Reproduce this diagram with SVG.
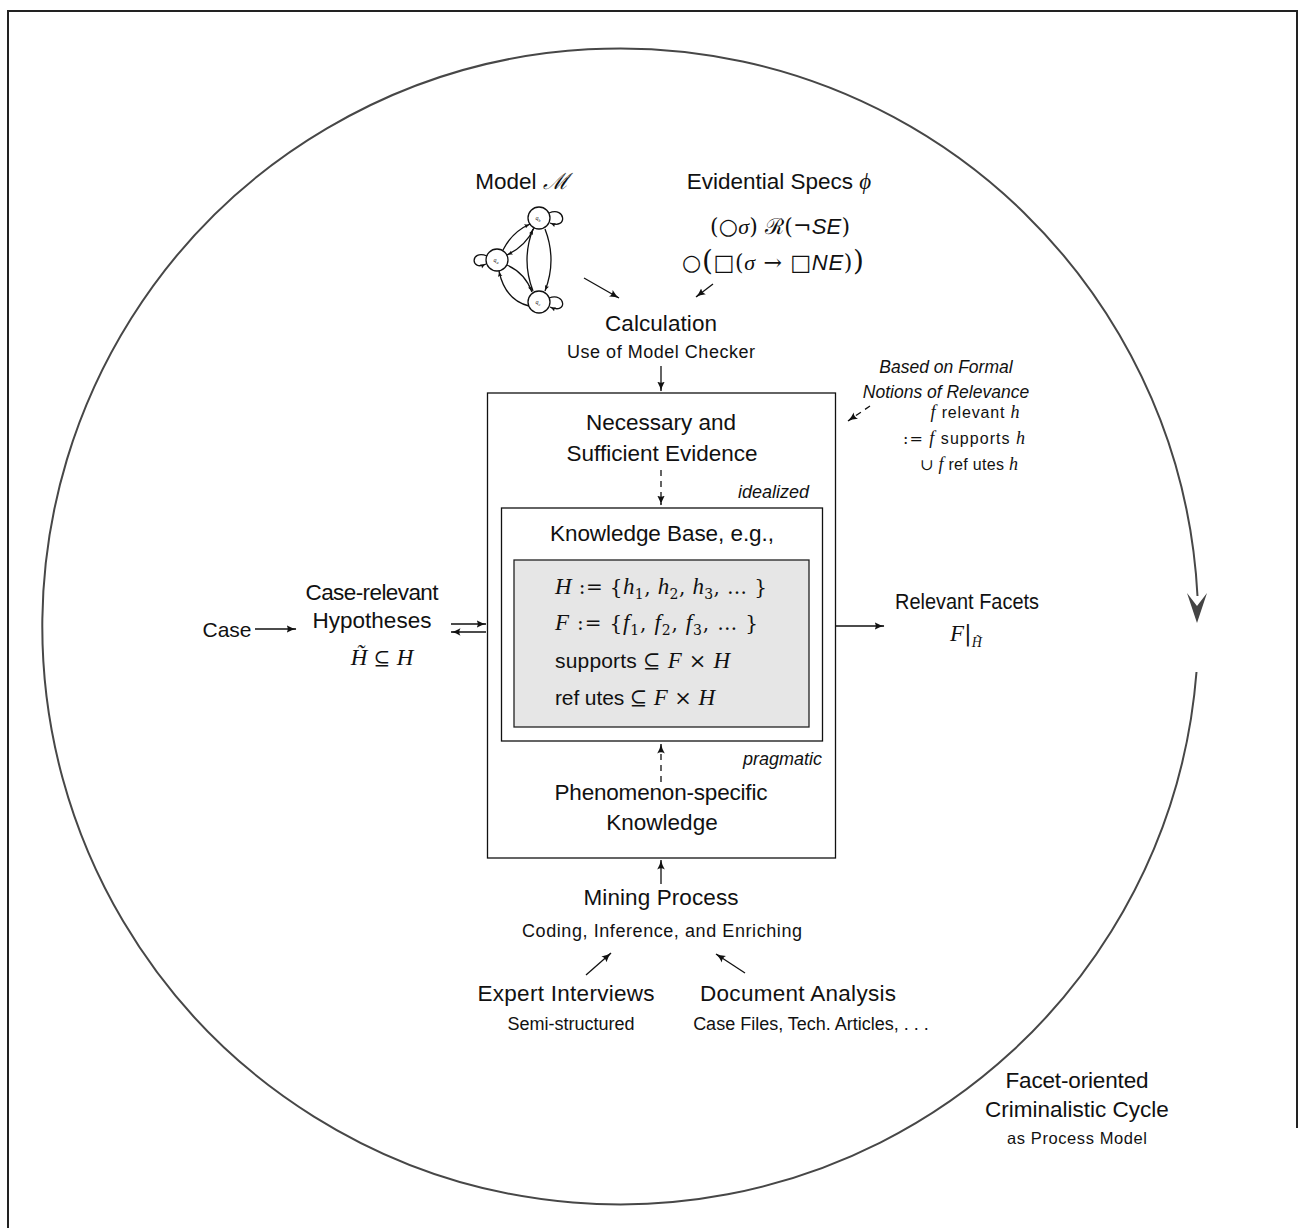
<svg xmlns="http://www.w3.org/2000/svg" width="1304" height="1228" viewBox="0 0 1304 1228">
<style>
.s{font-family:"Liberation Sans","DejaVu Sans",sans-serif;fill:#111}
.big{font-size:22.5px}
.sm{font-size:18px}
.xs{font-size:16px}
.it{font-style:italic}
.m{font-family:"Liberation Serif","DejaVu Serif",serif;font-style:italic;fill:#111}
.mr{font-family:"DejaVu Serif","Liberation Serif",serif;fill:#111}
.ln{stroke:#111;stroke-width:1.3;fill:none}
.ar{marker-end:url(#a)}
.ars{marker-end:url(#as)}
.dash{stroke-dasharray:6 5}
</style>
<defs>
<marker id="a" viewBox="0 0 10 10" refX="9.5" refY="5" markerWidth="10" markerHeight="10" markerUnits="userSpaceOnUse" orient="auto">
<path d="M0,1.2 Q5,4.2 10,5 Q5,5.8 0,8.8 Q2.5,5 0,1.2Z" fill="#111"/>
</marker>
<marker id="as" viewBox="0 0 10 10" refX="9.5" refY="5" markerWidth="6" markerHeight="6" markerUnits="userSpaceOnUse" orient="auto">
<path d="M0,1.2 Q5,4.2 10,5 Q5,5.8 0,8.8 Q2.5,5 0,1.2Z" fill="#111"/>
</marker>
</defs>

<!-- outer frame -->
<g id="frame">
<path d="M8,1240 V11 H1297 V1128" fill="none" stroke="#222" stroke-width="2"/>
</g>

<!-- cycle -->
<g id="cycle">
<path d="M1196.5,672 A578,578 0 1 1 1197.5,596" fill="none" stroke="#474747" stroke-width="2"/>
<path d="M1187,593 L1197,623 L1207,593 L1197,606Z" fill="#444"/>
<text class="s big" x="1077" y="1088" text-anchor="middle" textLength="143">Facet-oriented</text>
<text class="s big" x="1077" y="1117" text-anchor="middle">Criminalistic Cycle</text>
<text class="s" font-size="16.5" x="1077" y="1144" text-anchor="middle" textLength="140">as Process Model</text>
</g>

<!-- model -->
<g id="model">
<text class="s big" x="522" y="189" text-anchor="middle">Model <tspan class="mr" font-style="italic">ℳ</tspan></text>
<g class="ln" stroke-width="1">
<circle cx="497" cy="260" r="11"/>
<circle cx="539" cy="218" r="11"/>
<circle cx="539" cy="302" r="11"/>
</g>
<g font-size="6" class="m" text-anchor="middle">
<text x="496" y="262">q<tspan font-size="4" dy="1.5">a</tspan></text>
<text x="538" y="220">q<tspan font-size="4" dy="1.5">b</tspan></text>
<text x="538" y="304">q<tspan font-size="4" dy="1.5">c</tspan></text>
</g>
<g class="ln" stroke-width="1">
<path class="ars" d="M503,250 Q512,232 530,224"/>
<path class="ars" d="M534,228 Q526,246 507,255"/>
<path class="ars" d="M533,291 Q521,260 533,229"/>
<path class="ars" d="M545,229 Q557,260 545,291"/>
<path class="ars" d="M507,265 Q525,273 532,292"/>
<path class="ars" d="M529,306 Q505,300 499,271"/>
<path class="ars" d="M549,213 C566,206 568,230 550,223"/>
<path class="ars" d="M487,256 C470,249 470,272 486,264"/>
<path class="ars" d="M549,298 C566,292 568,315 550,307"/>
</g>
</g>

<!-- specs -->
<g id="specs">
<text class="s big" x="779" y="189" text-anchor="middle">Evidential Specs <tspan class="m" font-size="23">ϕ</tspan></text>
<text x="780" y="234" text-anchor="middle" font-size="22" textLength="140"><tspan class="mr">(○</tspan><tspan class="m">σ</tspan><tspan class="mr">) ℛ(¬</tspan><tspan class="s it">SE</tspan><tspan class="mr">)</tspan></text>
<text x="773" y="270" text-anchor="middle" font-size="22" textLength="182"><tspan class="mr">○</tspan><tspan class="mr" font-size="28">(</tspan><tspan class="mr">□(</tspan><tspan class="m">σ</tspan><tspan class="mr"> → □</tspan><tspan class="s it">NE</tspan><tspan class="mr">)</tspan><tspan class="mr" font-size="28">)</tspan></text>
</g>

<!-- calculation -->
<g id="calculation">
<text class="s big" x="661" y="331" text-anchor="middle" textLength="112">Calculation</text>
<text class="s sm" x="661" y="358" text-anchor="middle" textLength="188">Use of Model Checker</text>
</g>

<!-- relevance note -->
<g id="relevance">
<text class="s it" font-size="17.5" x="946" y="373" text-anchor="middle">Based on Formal</text>
<text class="s it" font-size="17.5" x="946" y="398" text-anchor="middle">Notions of Relevance</text>
<text class="s xs" x="975" y="418" text-anchor="middle" textLength="89"><tspan class="m" font-size="18">f</tspan> relevant <tspan class="m" font-size="18">h</tspan></text>
<text class="s xs" x="964" y="444" text-anchor="middle" textLength="122"><tspan class="mr" font-size="16">:=</tspan> <tspan class="m" font-size="18">f</tspan> supports <tspan class="m" font-size="18">h</tspan></text>
<text class="s xs" x="969" y="470" text-anchor="middle" textLength="98"><tspan class="mr" font-size="16">∪</tspan> <tspan class="m" font-size="18">f</tspan> ref utes <tspan class="m" font-size="18">h</tspan></text>
</g>

<!-- main box -->
<g id="evidence-box">
<rect x="487.5" y="393" width="348" height="465" fill="none" stroke="#111" stroke-width="1.3"/>
<text class="s big" x="661" y="430" text-anchor="middle">Necessary and</text>
<text class="s big" x="662" y="461" text-anchor="middle" textLength="191">Sufficient Evidence</text>
<text class="s it" font-size="18" x="809" y="498" text-anchor="end">idealized</text>
<text class="s it" font-size="18" x="822" y="765" text-anchor="end">pragmatic</text>
<text class="s big" x="661" y="800" text-anchor="middle" textLength="213">Phenomenon-specific</text>
<text class="s big" x="662" y="830" text-anchor="middle">Knowledge</text>
</g>

<g id="knowledge-base">
<rect x="501.5" y="508" width="321" height="233" fill="#fff" stroke="#111" stroke-width="1.3"/>
<text class="s big" x="662" y="541" text-anchor="middle" textLength="224">Knowledge Base, e.g.,</text>
<rect x="514" y="560" width="295" height="167" fill="#e6e6e6" stroke="#222" stroke-width="1.3"/>
<text x="555" y="594" font-size="23" textLength="212"><tspan class="m">H</tspan><tspan class="mr" font-size="20">  := {</tspan><tspan class="m">h</tspan><tspan class="mr" font-size="14" dy="5">1</tspan><tspan class="mr" dy="-5" font-size="20">, </tspan><tspan class="m">h</tspan><tspan class="mr" font-size="14" dy="5">2</tspan><tspan class="mr" dy="-5" font-size="20">, </tspan><tspan class="m">h</tspan><tspan class="mr" font-size="14" dy="5">3</tspan><tspan class="mr" dy="-5" font-size="20">, … }</tspan></text>
<text x="555" y="630" font-size="23" textLength="203"><tspan class="m">F</tspan><tspan class="mr" font-size="20">  := {</tspan><tspan class="m">f</tspan><tspan class="mr" font-size="14" dy="5">1</tspan><tspan class="mr" dy="-5" font-size="20">, </tspan><tspan class="m">f</tspan><tspan class="mr" font-size="14" dy="5">2</tspan><tspan class="mr" dy="-5" font-size="20">, </tspan><tspan class="m">f</tspan><tspan class="mr" font-size="14" dy="5">3</tspan><tspan class="mr" dy="-5" font-size="20">, … }</tspan></text>
<text x="555" y="668" font-size="21" textLength="175"><tspan class="s">supports </tspan><tspan class="mr">⊆ </tspan><tspan class="m" font-size="23">F</tspan><tspan class="mr"> × </tspan><tspan class="m" font-size="23">H</tspan></text>
<text x="555" y="705" font-size="21" textLength="160"><tspan class="s">ref utes </tspan><tspan class="mr">⊆ </tspan><tspan class="m" font-size="23">F</tspan><tspan class="mr"> × </tspan><tspan class="m" font-size="23">H</tspan></text>
</g>

<!-- case -->
<g id="case">
<text class="s" font-size="21" x="227" y="637" text-anchor="middle">Case</text>
</g>
<g id="hypotheses">
<text class="s big" x="372" y="600" text-anchor="middle" textLength="133">Case-relevant</text>
<text class="s big" x="372" y="628" text-anchor="middle">Hypotheses</text>
<text x="382" y="665" text-anchor="middle" font-size="23"><tspan class="m">H̃</tspan><tspan class="mr" font-size="20"> ⊆ </tspan><tspan class="m">H</tspan></text>
</g>

<!-- relevant facets -->
<g id="facets">
<text class="s" font-size="21.5" x="895" y="609" textLength="144" lengthAdjust="spacingAndGlyphs">Relevant Facets</text>
<text x="950" y="641" font-size="23"><tspan class="m">F</tspan><tspan class="mr">|</tspan><tspan class="m" font-size="14" dy="6">H̃</tspan></text>
</g>

<!-- mining -->
<g id="mining">
<text class="s big" x="661" y="905" text-anchor="middle" textLength="155">Mining Process</text>
<text class="s sm" x="662" y="937" text-anchor="middle" textLength="280">Coding, Inference, and Enriching</text>
</g>
<g id="interviews">
<text class="s big" x="566" y="1001" text-anchor="middle" textLength="177">Expert Interviews</text>
<text class="s sm" x="571" y="1030" text-anchor="middle">Semi-structured</text>
</g>
<g id="documents">
<text class="s big" x="798" y="1001" text-anchor="middle" textLength="196">Document Analysis</text>
<text class="s sm" x="811" y="1030" text-anchor="middle">Case Files, Tech. Articles, . . .</text>
</g>

<!-- connectors -->
<g id="connectors" class="ln">
<path class="ar" d="M584,278 L619,298"/>
<path class="ar" d="M713,284 L696,297"/>
<path class="ar" d="M661,366 V391"/>
<path class="ar dash" d="M661,470 V505"/>
<path class="ar dash" d="M870,406 L848,421"/>
<path class="ar" d="M255,629 H296"/>
<path class="ar" d="M451,624 H486"/>
<path class="ar" d="M486,632 H451"/>
<path class="ar" d="M836,626 H884"/>
<path class="ar dash" d="M661,782 V744"/>
<path class="ar" d="M661,884 V860"/>
<path class="ar" d="M586,975 L611,953"/>
<path class="ar" d="M745,973 L716,954"/>
</g>
</svg>
